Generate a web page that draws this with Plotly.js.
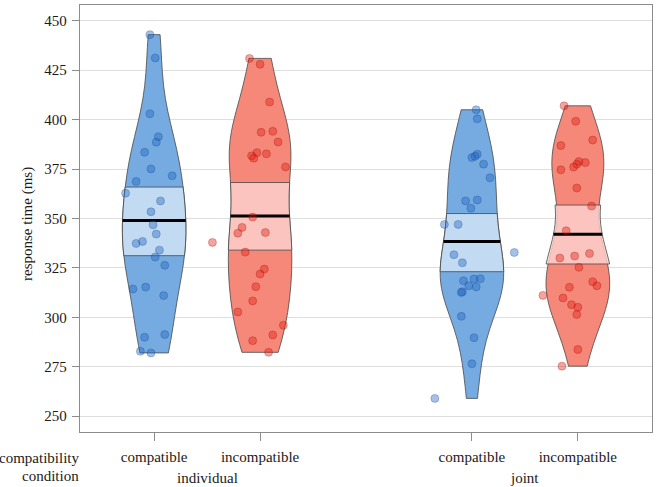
<!DOCTYPE html>
<html>
<head>
<meta charset="utf-8">
<script src="https://cdn.plot.ly/plotly-3.0.1.min.js"></script>
<style>
  html, body { margin: 0; padding: 0; background: #fff; }
  #chart { width: 658px; height: 487px; }
  #chart .violinlayer path { stroke-dasharray: none !important; }
</style>
</head>
<body>
<div id="chart"></div>
<script>
// Response times (ms) per participant, by task and compatibility condition
const positions = [1, 2, 4, 5];
const tickLabels = ['compatible', 'incompatible', 'compatible', 'incompatible'];
const groupLabels = ['individual', 'joint'];
const groupPositions = [1.5, 4.5];

const rtIndividualCompatible = [443, 431.2, 403, 391.4, 388.6, 383.5, 375.1, 371.6, 368.7, 362.8, 358.9, 353.4, 346.8,
  342.1, 338.4, 337.4, 334, 330.5, 326.3, 314.3, 315.3, 311, 289.9, 291.3, 282.8, 282];
const rtIndividualIncompatible = [431, 428, 408.9, 393.6, 394.1, 388.7, 383.3, 382.7, 381.7, 380.5, 376.1, 350.7, 345.5,
  342.6, 342.9, 337.9, 333, 324.4, 321.9, 315.5, 308.3, 302.7, 296, 291.1, 288.2, 282.3];
const rtJointCompatible = [405, 400.4, 382.5, 380.8, 377.5, 370.6, 358.9, 359.4, 355.2, 347, 347, 332.8, 331.7,
  327.6, 318.5, 319.4, 319.5, 316, 315.4, 313, 312.6, 300.5, 289.7, 276.5, 259, 381.5];
const rtJointIncompatible = [407, 399.2, 389.7, 386.9, 378.8, 378.3, 377.5, 376, 374.6, 365.4, 356.3, 343.8, 332.3,
  331, 330, 325.3, 318, 316, 315.2, 311.1, 309.8, 306.4, 305.1, 301.4, 283.7, 275.3];

// Horizontal scatter of each point around its bean centre (x units)
const jitterIndividualCompatible = [-0.04, 0.01, -0.04, 0.04, 0.02, -0.09, -0.03, 0.17, -0.17, -0.27, 0.06, -0.03, -0.01,
  0.02, -0.11, -0.17, 0.05, 0.01, 0.10, -0.20, -0.08, 0.09, -0.09, 0.10, -0.13, -0.03];
const jitterIndividualIncompatible = [-0.10, 0.00, 0.09, 0.01, 0.12, 0.17, -0.03, 0.06, -0.08, -0.06, 0.24, -0.07, -0.17,
  -0.21, 0.05, -0.45, -0.14, 0.04, 0.00, -0.04, -0.07, -0.21, 0.22, 0.12, -0.07, 0.08];
const jitterJointCompatible = [0.04, 0.05, 0.05, 0.00, 0.11, 0.17, -0.06, 0.05, -0.01, -0.26, -0.13, 0.40, -0.17,
  -0.09, -0.08, 0.02, 0.08, -0.03, 0.04, -0.09, -0.10, -0.10, 0.02, 0.00, -0.35, 0.03];
const jitterJointIncompatible = [-0.13, -0.02, 0.14, -0.16, 0.01, 0.07, -0.01, -0.04, -0.16, -0.01, 0.13, -0.11, 0.11,
  -0.03, -0.17, 0.01, 0.14, 0.18, -0.08, -0.33, -0.14, -0.06, 0.00, -0.01, 0.00, -0.15];

// Inference band (lower, upper) around each mean
const bandIndividualCompatible = [331.2, 365.9];
const bandIndividualIncompatible = [334.0, 368.2];
const bandJointCompatible = [323.1, 352.5];
const bandJointIncompatible = [327.0, 356.8];

const conditions = [
  { key: 'ic', rt: rtIndividualCompatible, jitter: jitterIndividualCompatible, band: bandIndividualCompatible, hue: 'blue' },
  { key: 'ii', rt: rtIndividualIncompatible, jitter: jitterIndividualIncompatible, band: bandIndividualIncompatible, hue: 'red' },
  { key: 'jc', rt: rtJointCompatible, jitter: jitterJointCompatible, band: bandJointCompatible, hue: 'blue' },
  { key: 'ji', rt: rtJointIncompatible, jitter: jitterJointIncompatible, band: bandJointIncompatible, hue: 'red' }
];

const palette = {
  blue: { bean: 'rgb(117,171,224)', band: 'rgba(214,231,246,0.8)', point: 'rgba(30,100,195,0.4)', edge: 'rgba(20,60,130,0.4)' },
  red:  { bean: 'rgb(246,136,122)', band: 'rgba(252,211,207,0.8)', point: 'rgba(228,25,15,0.4)', edge: 'rgba(140,15,5,0.4)' }
};

// Silverman's rule of thumb (R's bw.nrd0) for the kernel bandwidth
function quantile(sorted, p) {
  const h = (sorted.length - 1) * p, lo = Math.floor(h), hi = Math.ceil(h);
  return sorted[lo] + (sorted[hi] - sorted[lo]) * (h - lo);
}
function bwNrd0(x) {
  const n = x.length;
  const m = x.reduce((a, b) => a + b, 0) / n;
  const sd = Math.sqrt(x.reduce((a, b) => a + (b - m) * (b - m), 0) / (n - 1));
  const s = x.slice().sort((a, b) => a - b);
  const iqr = quantile(s, 0.75) - quantile(s, 0.25);
  return 0.9 * Math.min(sd, iqr / 1.34) * Math.pow(n, -0.2);
}

const beanTraces = [], pointTraces = [], bandTraces = [];
conditions.forEach((c, i) => {
  const pos = positions[i];
  const col = palette[c.hue];
  const bw = bwNrd0(c.rt);
  const xs = c.rt.map(() => pos);
  const common = {
    type: 'violin', x: xs, y: c.rt, bandwidth: bw,
    scalemode: 'width', scalegroup: c.key, width: 0.6,
    points: false, box: { visible: false }, hoverinfo: 'skip', showlegend: false
  };
  beanTraces.push(Object.assign({}, common, {
    spanmode: 'hard',
    fillcolor: col.bean,
    line: { color: '#474747', width: 0.8 },
    meanline: { visible: false }
  }));
  pointTraces.push({
    type: 'scatter', mode: 'markers',
    x: c.rt.map((_, k) => pos + c.jitter[k]), y: c.rt,
    marker: { size: 8, color: col.point, line: { color: col.edge, width: 0.7 } },
    hoverinfo: 'skip', showlegend: false
  });
  bandTraces.push(Object.assign({}, common, {
    spanmode: 'manual', span: c.band,
    fillcolor: col.band,
    line: { color: '#474747', width: 0.8 },
    meanline: { visible: true, color: '#000', width: 3 }
  }));
});

const font = { family: 'Liberation Serif, Times New Roman, serif', size: 15, color: '#1a1a1a' };
const plotH = 487 - 5 - 55, plotW = 658 - 80 - 6;
const py = Y => (432 - Y) / plotH;     // pixel row -> paper y
const px = X => (X - 80) / plotW;      // pixel column -> paper x

const annotations = [
  { text: 'compatibility', xref: 'paper', yref: 'paper', x: px(81), y: py(458), xanchor: 'right', yanchor: 'middle', showarrow: false, font },
  { text: 'condition', xref: 'paper', yref: 'paper', x: px(81), y: py(476), xanchor: 'right', yanchor: 'middle', showarrow: false, font },
  { text: 'response time (ms)', xref: 'paper', yref: 'paper', x: px(27), y: py(224), textangle: -90, xanchor: 'center', yanchor: 'middle', showarrow: false, font }
].concat(groupLabels.map((g, i) => ({
  text: g, xref: 'x', yref: 'paper', x: groupPositions[i], y: py(478), xanchor: 'center', yanchor: 'middle', showarrow: false, font
})));

const layout = {
  width: 658, height: 487,
  margin: { l: 80, r: 6, t: 5, b: 55 },
  paper_bgcolor: '#fff', plot_bgcolor: '#fff',
  violinmode: 'overlay',
  font,
  showlegend: false,
  xaxis: {
    range: [0.3, 5.7], tickvals: positions, ticktext: tickLabels,
    ticks: 'outside', ticklen: 8, tickcolor: '#8c8c8c', tickwidth: 1,
    showgrid: false, zeroline: false,
    showline: true, linecolor: '#8c8c8c', linewidth: 1.3, mirror: true,
    tickfont: font, ticklabelstandoff: 3
  },
  yaxis: {
    range: [242, 458], tickvals: [250, 275, 300, 325, 350, 375, 400, 425, 450],
    ticks: 'outside', ticklen: 7, tickcolor: '#8c8c8c', tickwidth: 1,
    showgrid: true, gridcolor: '#dedede', gridwidth: 1, zeroline: false,
    showline: true, linecolor: '#8c8c8c', linewidth: 1.3, mirror: true,
    tickfont: font, ticklabelstandoff: 2
  },
  annotations
};

const chart = document.getElementById('chart');
function solidMeans() {
  // the average line of each bean is drawn solid
  chart.querySelectorAll('.violinlayer path').forEach(p => {
    p.style.setProperty('stroke-dasharray', 'none', 'important');
    p.removeAttribute('stroke-dasharray');
  });
}
Plotly.newPlot(chart, beanTraces.concat(pointTraces, bandTraces), layout, { staticPlot: true, displayModeBar: false })
  .then(solidMeans);
solidMeans();
</script>
</body>
</html>
